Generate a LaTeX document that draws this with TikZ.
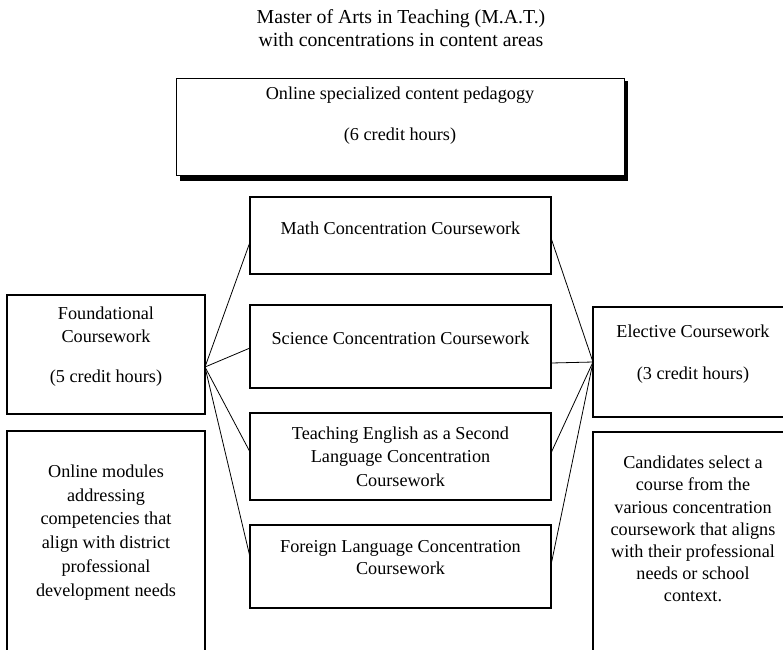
\documentclass[tikz,border=0pt]{standalone}
\usepackage{fontspec}
\setmainfont{Liberation Serif}
\begin{document}
\begin{tikzpicture}[x=1pt,y=-1pt,
  box/.style={draw=black,line width=2pt,fill=white,rectangle,outer sep=0pt,inner sep=0pt,anchor=north west},
  txt/.style={align=center,inner sep=0pt,font=\fontsize{18.2}{22.5}\selectfont},
  link/.style={draw=black,line width=0.8pt}]
\path[use as bounding box,clip] (0,0) rectangle (783,649);
\fill[white] (0,0) rectangle (783,649);
% title
\node[txt,font=\fontsize{19.8}{23}\selectfont] (title) at (401,28.5) {Master of Arts in Teaching (M.A.T.)\\with concentrations in content areas};
% top box with shadow
\fill[black] (180,81) rectangle (628,181);
\node[draw=black,line width=0.9pt,fill=white,rectangle,outer sep=0pt,inner sep=0pt,anchor=north west,minimum width=448pt,minimum height=97pt] (ped) at (176,78) {};
\node[txt] (pedT) at (400,116) {Online specialized content pedagogy\\[18.5pt](6 credit hours)};
% concentration boxes
\node[box,minimum width=301pt,minimum height=77pt] (math) at (250,197) {};
\node[box,minimum width=301pt,minimum height=83pt] (sci) at (250,305) {};
\node[box,minimum width=301pt,minimum height=87pt] (tesl) at (250,413) {};
\node[box,minimum width=301pt,minimum height=83pt] (flang) at (250,525) {};
\node[txt] (mathT) at (400.5,228) {Math Concentration Coursework};
\node[txt] (sciT) at (400.5,338) {Science Concentration Coursework};
\node[txt,font=\fontsize{18.2}{23.5}\selectfont] (teslT) at (400.5,456.5) {Teaching English as a Second\\Language Concentration\\Coursework};
\node[txt,font=\fontsize{18.2}{21.5}\selectfont] (flangT) at (400.5,557.5) {Foreign Language Concentration\\Coursework};
% left boxes
\node[box,minimum width=198pt,minimum height=119pt] (found) at (7,295) {};
\node[box,minimum width=198pt,minimum height=240pt] (online) at (7,431) {};
\node[txt] (foundT) at (106,347) {Foundational\\Coursework\\[18pt](5 credit hours)};
\node[txt,font=\fontsize{18.2}{23.8}\selectfont] (onlineT) at (106,532.5) {Online modules\\addressing\\competencies that\\align with district\\professional\\development needs};
% right boxes
\node[box,minimum width=220pt,minimum height=110pt] (elect) at (593,307) {};
\node[box,minimum width=220pt,minimum height=240pt] (cand) at (593,432) {};
\node[txt] (electT) at (693,354.5) {Elective Coursework\\[19.5pt](3 credit hours)};
\node[txt,font=\fontsize{18.2}{22.2}\selectfont] (candT) at (693,529) {Candidates select a\\course from the\\various concentration\\coursework that aligns\\with their professional\\needs or school\\context.};
% connector end points
\coordinate (lhub) at (205,367);
\coordinate (rhub) at (593,362);
\coordinate (mathL) at (250,242);
\coordinate (sciL) at (250,348);
\coordinate (teslL) at (250,452);
\coordinate (flangL) at (250,557);
\coordinate (mathR) at (551,238);
\coordinate (sciR) at (551,363);
\coordinate (teslR) at (551,453);
\coordinate (flangR) at (551,565);
\draw[link] (lhub) -- (mathL);
\draw[link] (lhub) -- (sciL);
\draw[link] (lhub) -- (teslL);
\draw[link] (lhub) -- (flangL);
\draw[link] (mathR) -- (rhub);
\draw[link] (sciR) -- (rhub);
\draw[link] (teslR) -- (rhub);
\draw[link] (flangR) -- (rhub);
\end{tikzpicture}
\end{document}
